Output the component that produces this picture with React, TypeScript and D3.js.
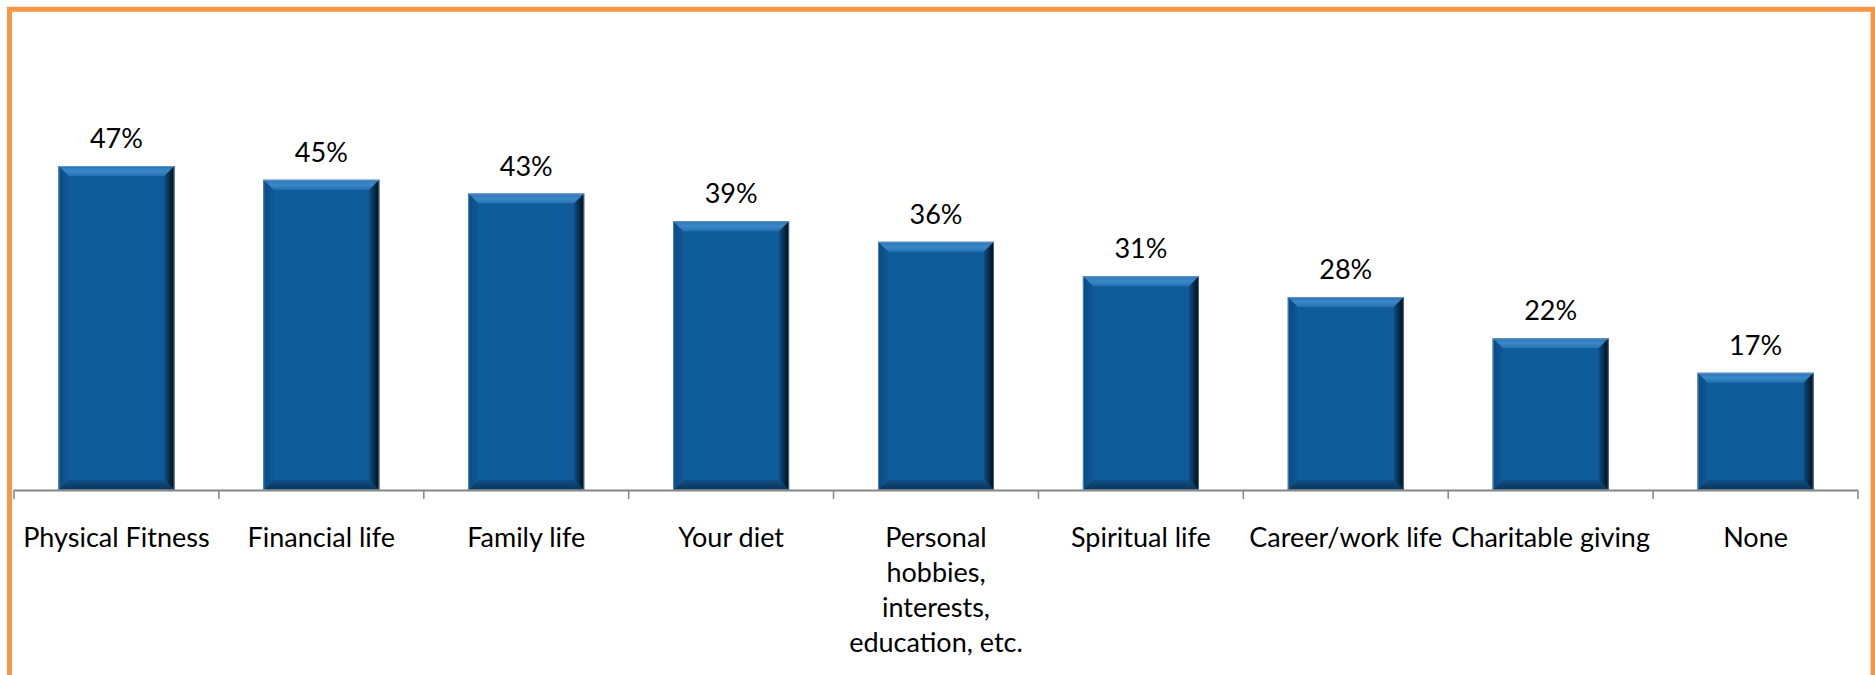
import React from "react";
import * as d3 from "d3";

const categories: string[] = [
  "Physical Fitness",
  "Financial life",
  "Family life",
  "Your diet",
  "Personal\nhobbies,\ninterests,\neducation, etc.",
  "Spiritual life",
  "Career/work life",
  "Charitable giving",
  "None",
];
const values: number[] = [0.47, 0.45, 0.43, 0.39, 0.36, 0.31, 0.28, 0.22, 0.17];
const valueLabels: string[] = ["47%", "45%", "43%", "39%", "36%", "31%", "28%", "22%", "17%"];

const W = 1875;
const H = 675;
const FONT = "Lato, 'Open Sans', sans-serif";
const FS = 27;

export default function App() {
  const x = d3
    .scaleBand<string>()
    .domain(categories)
    .range([14, 1858])
    .paddingInner(0.434)
    .paddingOuter(0.217);
  const y = d3.scaleLinear().domain([0, 0.6]).range([490, 76.4]);
  const step = x.step();
  const r0 = x.range()[0];
  const ticks = d3.range(categories.length + 1).map((i) => r0 + i * step);
  const axisY = y(0);

  return (
    <svg
      width={W}
      height={H}
      style={{ position: "absolute", left: 0, top: 0, background: "#fff" }}
    >
      <defs>
        <linearGradient id="gTop" x1="0" y1="0" x2="0" y2="1">
          <stop offset="0" stopColor="#2A73B3" />
          <stop offset="0.5" stopColor="#3B88C9" />
          <stop offset="1" stopColor="#2470B1" />
        </linearGradient>
        <linearGradient id="gRight" x1="0" y1="0" x2="1" y2="0">
          <stop offset="0" stopColor="#0D4E86" />
          <stop offset="0.6" stopColor="#06263F" />
          <stop offset="1" stopColor="#020B14" />
        </linearGradient>
        <linearGradient id="gBottom" x1="0" y1="0" x2="0" y2="1">
          <stop offset="0" stopColor="#0E5088" />
          <stop offset="1" stopColor="#0A3454" />
        </linearGradient>
        <linearGradient id="gLeft" x1="0" y1="0" x2="1" y2="0">
          <stop offset="0" stopColor="#0B4A80" />
          <stop offset="1" stopColor="#0F5896" />
        </linearGradient>
      </defs>

      <rect
        x={9.5}
        y={9.3}
        width={1863.5}
        height={720}
        fill="none"
        stroke="#F79646"
        strokeWidth={5}
      />

      {categories.map((c, i) => {
        const x0 = x(c)!;
        const x1 = x0 + x.bandwidth();
        const y0 = y(values[i]);
        const y1 = axisY;
        const d = Math.min(10, (y1 - y0) / 2);
        const pts = (a: number[][]) => a.map((p) => p.join(",")).join(" ");
        return (
          <g key={c}>
            <rect x={x0} y={y0} width={x1 - x0} height={y1 - y0} fill="#0F5C9B" />
            <polygon
              points={pts([[x0, y0], [x1, y0], [x1 - d, y0 + d], [x0 + d, y0 + d]])}
              fill="url(#gTop)"
            />
            <polygon
              points={pts([[x0, y1], [x1, y1], [x1 - d, y1 - d], [x0 + d, y1 - d]])}
              fill="url(#gBottom)"
            />
            <polygon
              points={pts([[x0, y0], [x0 + d, y0 + d], [x0 + d, y1 - d], [x0, y1]])}
              fill="url(#gLeft)"
            />
            <polygon
              points={pts([[x1, y0], [x1, y1], [x1 - d, y1 - d], [x1 - d, y0 + d]])}
              fill="url(#gRight)"
            />
            <rect
              x={x0 + 0.5}
              y={y0 + 0.5}
              width={x1 - x0 - 1}
              height={y1 - y0 - 1}
              fill="none"
              stroke="#8FB0D3"
              strokeOpacity={0.55}
              strokeWidth={1}
            />
            <text
              x={x0 + x.bandwidth() / 2}
              y={y0 - 18}
              textAnchor="middle"
              fontFamily={FONT}
              fontSize={FS}
              fill="#000"
            >
              {valueLabels[i]}
            </text>
          </g>
        );
      })}

      <line x1={ticks[0]} x2={ticks[ticks.length - 1]} y1={axisY + 0.5} y2={axisY + 0.5} stroke="#868686" strokeWidth={2} />
      {ticks.map((t, i) => (
        <line key={i} x1={t} x2={t} y1={axisY} y2={axisY + 9} stroke="#868686" strokeWidth={1.5} />
      ))}

      {categories.map((c) => {
        const lines = c.split("\n");
        const cx = x(c)! + x.bandwidth() / 2;
        return (
          <text key={c} textAnchor="middle" fontFamily={FONT} fontSize={FS} fill="#000">
            {lines.map((l, j) => (
              <tspan key={j} x={cx} y={547 + j * 35}>
                {l}
              </tspan>
            ))}
          </text>
        );
      })}
    </svg>
  );
}
